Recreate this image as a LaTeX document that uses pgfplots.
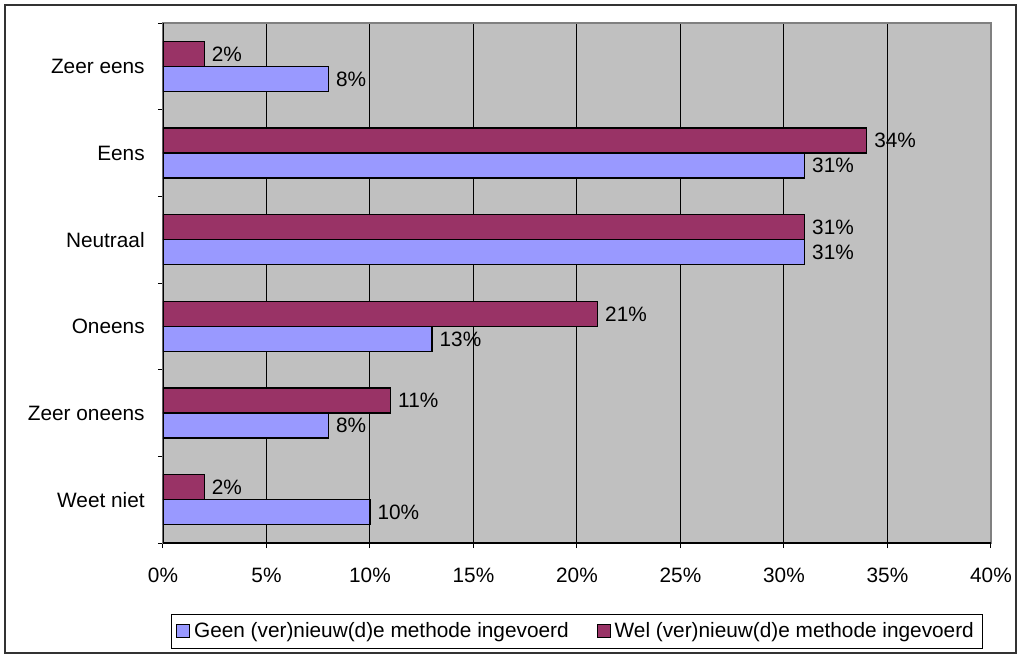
\documentclass[border=0pt]{standalone}
\usepackage{fontspec}
\setmainfont{Liberation Sans}
\usepackage{pgfplots}
\pgfplotsset{compat=1.18}
\definecolor{geen}{HTML}{9999FF}
\definecolor{wel}{HTML}{993366}
\definecolor{plotbg}{HTML}{C0C0C0}
\definecolor{framegray}{HTML}{808080}
\newcommand{\chartfont}{\fontsize{10.4}{12}\selectfont}
\begin{document}
\chartfont
\begin{tikzpicture}
\useasboundingbox (-81.5pt,-56pt) rectangle (427.5pt,271.5pt);
\draw[line width=1pt, draw=black!80] (-79pt,-55pt) rectangle (426.5pt,269pt);
\begin{axis}[
  at={(0pt,0pt)}, anchor=south west,
  width=414pt, height=260pt, scale only axis,
  xmin=0, xmax=40, ymin=-0.5, ymax=5.5,
  xbar, bar width=12.5pt,
  xtick={0,5,...,40},
  xticklabel={\pgfmathprintnumber{\tick}\%},
  ytick={0,1,2,3,4,5},
  yticklabels={Weet niet, Zeer oneens, Oneens, Neutraal, Eens, Zeer eens},
  minor ytick={-0.5,0.5,...,5.5},
  major y tick style={draw=none},
  xtick pos=bottom, ytick pos=left,
  tick align=outside,
  major tick length=2.5pt, minor tick length=2.5pt,
  tick style={black, line width=0.5pt},
  xmajorgrids,
  major x grid style={black, line width=0.5pt},
  axis background/.style={fill=plotbg},
  axis line style={draw=framegray, line width=0.8pt},
  ticklabel style={font=\chartfont},
  /pgf/number format/assume math mode=true,
  xticklabel style={yshift=-6.5pt},
  yticklabel style={xshift=-3pt},
  point meta=x,
  nodes near coords={\pgfmathprintnumber{\pgfplotspointmeta}\%},
  nodes near coords align=horizontal,
  every node near coord/.append style={font=\chartfont, anchor=west, black},
  legend columns=2,
  legend style={at={(0.5,0)}, anchor=north, yshift=-35.5pt,
    draw=black, fill=white, font=\chartfont, inner xsep=2.5pt, inner ysep=2pt,
    /tikz/every even column/.append style={column sep=12pt}},
  legend image code/.code={\draw[#1, draw=black, line width=0.5pt] (0pt,-3pt) rectangle (6.5pt,3.5pt);},
]
\addplot[fill=geen, draw=black, line width=0.6pt, bar shift=-6.25pt]
  coordinates {(10,0) (8,1) (13,2) (31,3) (31,4) (8,5)};
\addlegendentry{Geen (ver)nieuw(d)e methode ingevoerd}
\addplot[fill=wel, draw=black, line width=0.6pt, bar shift=6.25pt]
  coordinates {(2,0) (11,1) (21,2) (31,3) (34,4) (2,5)};
\addlegendentry{Wel (ver)nieuw(d)e methode ingevoerd}
\draw[black, line width=0.6pt] (axis cs:0,-0.5) -- (axis cs:0,5.5);
\draw[black, line width=0.6pt] (axis cs:0,-0.5) -- (axis cs:40,-0.5);
\end{axis}
\end{tikzpicture}
\end{document}
